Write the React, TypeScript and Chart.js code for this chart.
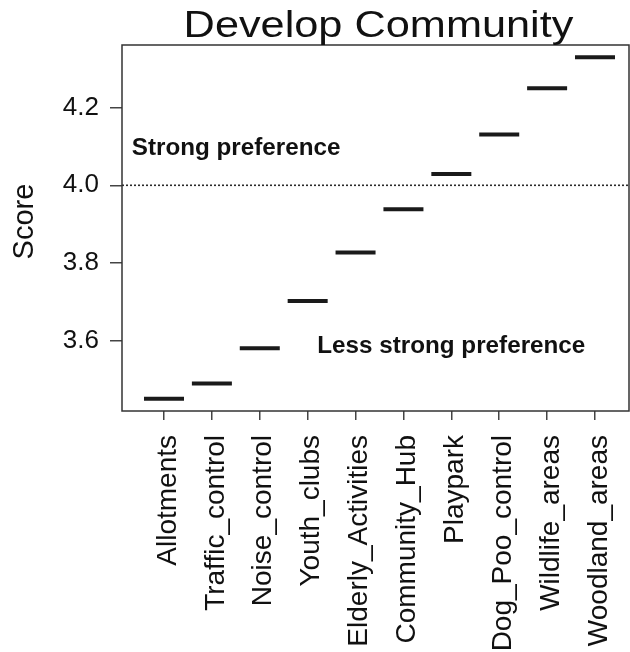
import { useEffect, useRef } from 'react';
import { Chart, registerables } from 'chart.js';

Chart.register(...registerables);

const FONT = "'Liberation Sans', Arial, Helvetica, sans-serif";

const TITLE = 'Develop Community';
const Y_LABEL = 'Score';
const categories = [
  'Allotments',
  'Traffic_control',
  'Noise_control',
  'Youth_clubs',
  'Elderly_Activities',
  'Community_Hub',
  'Playpark',
  'Dog_Poo_control',
  'Wildlife_areas',
  'Woodland_areas',
];
const scores = [3.45, 3.489, 3.58, 3.702, 3.827, 3.938, 4.029, 4.131, 4.25, 4.33];
const yTickValues = [3.6, 3.8, 4.0, 4.2];
const referenceValue = 4.0;
const annotationTexts = ['Strong preference', 'Less strong preference'];

const X_MIN = 0.123;
const X_MAX = 10.71;
const Y_MIN = 3.4183;
const Y_MAX = 4.3616;

const ZERO_PAD = () => ({ left: 0, top: 0, right: 0, bottom: 0 });

function stretchedText(ctx: any, text: string, x: number, y: number, sx: number) {
  ctx.save();
  ctx.translate(x, y);
  ctx.scale(sx, 1);
  ctx.fillText(text, 0, 0);
  ctx.restore();
}

const overlayPlugin = {
  id: 'overlay',
  afterDraw(chart: any) {
    const { ctx, chartArea: a, scales } = chart;
    const xs = scales.x;
    const ys = scales.y;
    ctx.save();
    // plot box
    ctx.strokeStyle = '#333';
    ctx.lineWidth = 1.5;
    ctx.setLineDash([]);
    ctx.strokeRect(a.left, a.top, a.right - a.left, a.bottom - a.top);

    ctx.fillStyle = '#111';
    // title
    ctx.font = `37px ${FONT}`;
    ctx.textAlign = 'left';
    ctx.textBaseline = 'alphabetic';
    const sx = 1.17;
    const tw = ctx.measureText(TITLE).width * sx;
    stretchedText(ctx, TITLE, (a.left + a.right) / 2 + 3 - tw / 2, a.top - 8, sx);

    // annotations
    ctx.font = `bold 24px ${FONT}`;
    stretchedText(ctx, annotationTexts[0], xs.getPixelForValue(0.326), ys.getPixelForValue(4.078), 1.01);
    stretchedText(ctx, annotationTexts[1], xs.getPixelForValue(4.2), ys.getPixelForValue(3.567), 1.01);

    // y axis title
    ctx.font = `29px ${FONT}`;
    ctx.textAlign = 'center';
    ctx.textBaseline = 'middle';
    ctx.translate(25, (a.top + a.bottom) / 2 - 6.5);
    ctx.rotate(-Math.PI / 2);
    ctx.fillText(Y_LABEL, 0, 0);
    ctx.restore();
  },
};

export default function App() {
  const ref = useRef<HTMLCanvasElement>(null);

  useEffect(() => {
    if (!ref.current) return;
    const chart = new Chart(ref.current, {
      type: 'line',
      data: {
        datasets: [
          {
            label: 'Score',
            data: scores.map((s, i) => ({ x: i + 1, y: s })),
            showLine: false,
            pointStyle: 'line',
            pointRadius: 20,
            pointHoverRadius: 20,
            pointBorderWidth: 4,
            pointBorderColor: '#1a1a1a',
            pointBackgroundColor: '#1a1a1a',
            borderColor: '#1a1a1a',
            order: 0,
          },
          {
            label: 'Reference',
            data: [
              { x: X_MIN, y: referenceValue },
              { x: X_MAX, y: referenceValue },
            ],
            borderColor: '#2a2a2a',
            borderWidth: 1.6,
            borderDash: [2, 2],
            pointRadius: 0,
            order: 1,
          },
        ],
      },
      options: {
        animation: false,
        responsive: false,
        events: [],
        layout: { autoPadding: false, padding: { top: 45, right: 1, left: 0, bottom: 0 } },
        plugins: {
          legend: { display: false },
          title: { display: false },
          tooltip: { enabled: false },
        },
        scales: {
          x: {
            type: 'linear',
            min: X_MIN,
            max: X_MAX,
            afterBuildTicks: (s: any) => {
              s.ticks = categories.map((_, i) => ({ value: i + 1 }));
            },
            afterFit: (s: any) => {
              s.height = 241;
              s.paddingLeft = 0;
              s.paddingRight = 0;
              s.getPadding = ZERO_PAD;
            },
            grid: {
              drawOnChartArea: false,
              drawTicks: true,
              tickLength: 9,
              color: '#444',
              lineWidth: 1.5,
            },
            border: { display: false },
            ticks: {
              autoSkip: false,
              maxRotation: 90,
              minRotation: 90,
              padding: 15,
              labelOffset: 4,
              color: '#111',
              font: { family: FONT, size: 28 },
              callback: (v: any) => categories[Math.round(Number(v)) - 1] ?? '',
            },
          },
          y: {
            type: 'linear',
            min: Y_MIN,
            max: Y_MAX,
            afterBuildTicks: (s: any) => {
              s.ticks = yTickValues.map((v) => ({ value: v }));
            },
            afterFit: (s: any) => {
              s.width = 122;
              s.paddingTop = 0;
              s.paddingBottom = 0;
              s.getPadding = ZERO_PAD;
            },
            grid: {
              drawOnChartArea: false,
              drawTicks: true,
              tickLength: 12,
              color: '#444',
              lineWidth: 1.5,
            },
            border: { display: false },
            ticks: {
              padding: 11,
              color: '#111',
              font: { family: FONT, size: 26 },
              callback: (v: any) => Number(v).toFixed(1),
            },
          },
        },
      },
      plugins: [overlayPlugin],
    });
    return () => chart.destroy();
  }, []);

  return (
    <div style={{ position: 'fixed', left: 0, top: 0, width: 630, height: 652, background: '#fff' }}>
      <canvas ref={ref} width={630} height={652} style={{ display: 'block' }} />
    </div>
  );
}
